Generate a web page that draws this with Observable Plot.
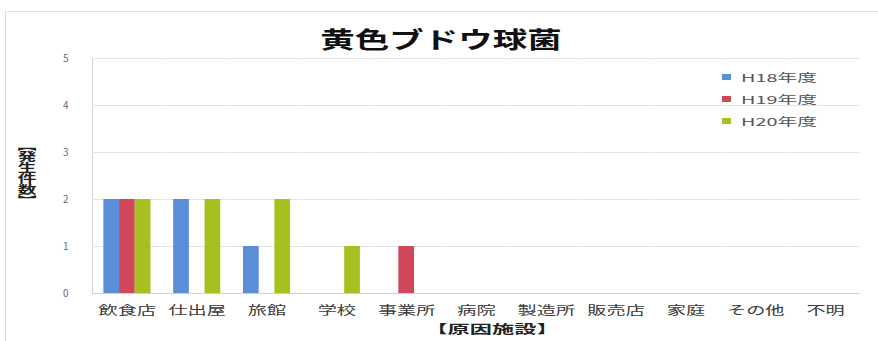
<!DOCTYPE html>
<html><head><meta charset="utf-8">
<script src="https://cdn.jsdelivr.net/npm/d3@7"></script>
<script src="https://cdn.jsdelivr.net/npm/@observablehq/plot@0.6"></script>
<style>
body{margin:0;background:#fff;font-family:"Noto Sans CJK JP","Noto Sans",sans-serif;}
#wrap{position:relative;width:878px;height:341px;overflow:hidden;}
#border{position:absolute;left:5px;top:11px;width:880px;height:340px;border-left:1px solid #d8d8d8;border-top:1px solid #e4e4e4;}
#title{position:absolute;left:441px;top:25px;font-size:23px;font-weight:bold;color:#111;line-height:26px;white-space:nowrap;transform:translateX(-50%) scaleX(1.5);}
#chart{position:absolute;left:0;top:45px;}
#ylab{position:absolute;left:27px;top:140px;writing-mode:vertical-rl;font-size:11px;font-weight:bold;color:#222;line-height:12px;transform:translateX(-50%) scaleX(1.7);}
#xlab{position:absolute;left:492px;top:322px;font-size:12px;font-weight:bold;color:#222;line-height:14px;white-space:nowrap;transform:translateX(-50%) scaleX(1.85);}
#legend{position:absolute;left:722px;top:66px;font-size:11px;color:#555;}
#legend div{height:22px;line-height:18px;display:flex;align-items:center;}
#legend span.sw{display:inline-block;width:9px;height:6px;margin-right:10px;}
#legend span.tx{display:inline-block;transform-origin:left center;transform:scaleX(1.8);white-space:nowrap;}
</style></head>
<body>
<div id="wrap">
<div id="border"></div>
<div id="title"></div>
<div id="chart"></div>
<div id="ylab"></div>
<div id="xlab"></div>
<div id="legend"></div>
</div>
<script>
const titleText = "黄色ブドウ球菌";
const yLabel = "【発生件数】";
const xLabel = "【原因施設】";
const categories = ["飲食店","仕出屋","旅館","学校","事業所","病院","製造所","販売店","家庭","その他","不明"];
const series = ["H18年度","H19年度","H20年度"];
const colors = ["#5a8ed8","#d0475a","#a6c01f"];
const h18 = [2,2,1,0,0,0,0,0,0,0,0];
const h19 = [2,0,0,0,1,0,0,0,0,0,0];
const h20 = [2,2,2,1,0,0,0,0,0,0,0];
const yTicks = [0,1,2,3,4,5];

document.getElementById("title").textContent = titleText;
document.getElementById("ylab").textContent = yLabel;
document.getElementById("xlab").textContent = xLabel;
const leg = document.getElementById("legend");
series.forEach((s,i)=>{
  const d = document.createElement("div");
  const sw = document.createElement("span"); sw.className = "sw"; sw.style.background = colors[i];
  const tx = document.createElement("span"); tx.className = "tx"; tx.textContent = s;
  d.appendChild(sw); d.appendChild(tx);
  leg.appendChild(d);
});

const vals = [h18,h19,h20];
const data = [];
categories.forEach((c,ci)=>series.forEach((s,si)=>{
  data.push({cat:c, ser:s, v:vals[si][ci]});
}));

const svg = Plot.plot({
  width: 878,
  height: 296,
  marginLeft: 92,
  marginRight: 18,
  marginTop: 13,
  marginBottom: 48,
  style: {fontFamily: '"Noto Sans CJK JP","Noto Sans",sans-serif', fontSize: "12px", color: "#333", background: "transparent"},
  fx: {domain: categories, padding: 0, round: false, label: null, tickSize: 0, tickPadding: 13},
  x: {domain: series, type: "band", paddingInner: 0, paddingOuter: 0.725, round: false, axis: null},
  y: {domain: [0,5], ticks: yTicks, tickFormat: d3.format("d"), label: null, tickSize: 0, tickPadding: 24, line: true},
  color: {domain: series, range: colors},
  facet: {data: data, x: "cat"},
  marks: [
    Plot.ruleY(yTicks.slice(1), {stroke: "#e4e4e4", strokeWidth: 1}),
    Plot.ruleY([0], {stroke: "#d0d0d0"}),
    Plot.barY(data, {filter: d => d.v > 0, x: "ser", y: "v", fill: "ser"})
  ]
});
document.getElementById("chart").appendChild(svg);
svg.querySelectorAll("path, line").forEach(el=>{
  const s = getComputedStyle(el).stroke;
  if (s === "rgb(51, 51, 51)") { el.setAttribute("stroke", "#d0d0d0"); el.style.stroke = "#d0d0d0"; }
});
svg.querySelectorAll("text").forEach(t=>{
  const s = t.textContent.trim();
  if (categories.includes(s)) {
    t.setAttribute("fill", "#3a3a3a");
    const len = t.getComputedTextLength();
    t.setAttribute("textLength", (len * 1.6).toFixed(1));
    t.setAttribute("lengthAdjust", "spacingAndGlyphs");
  } else if (/^\d+$/.test(s)) {
    t.style.fontSize = "10px";
    t.setAttribute("fill", "#6f6488");
  }
});
</script>
</body></html>
